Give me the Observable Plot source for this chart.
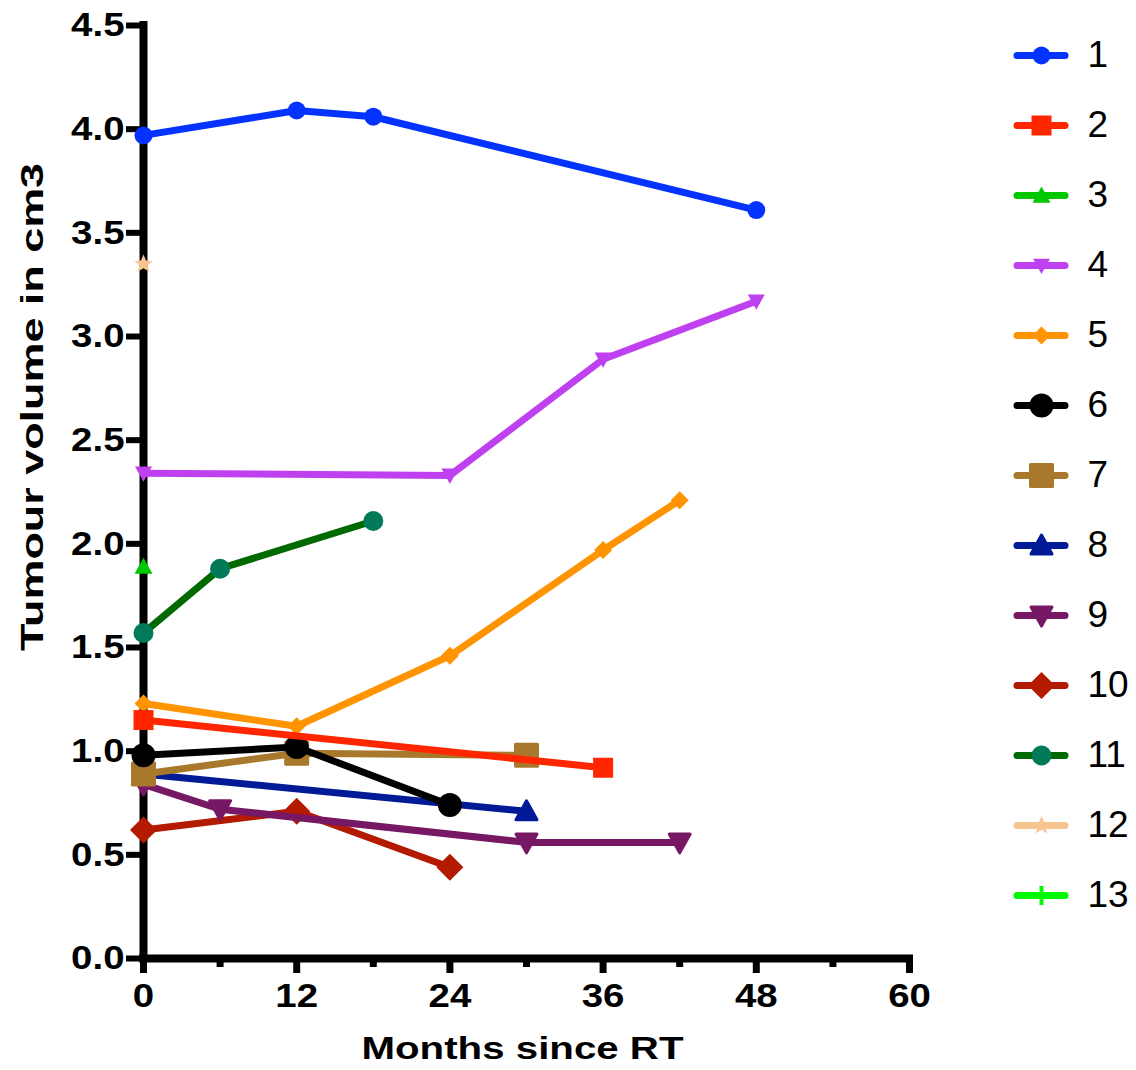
<!DOCTYPE html>
<html>
<head>
<meta charset="utf-8">
<script src="https://cdn.jsdelivr.net/npm/d3@7"></script>
<script src="https://cdn.jsdelivr.net/npm/@observablehq/plot@0.6"></script>
<style>
  html, body { margin: 0; padding: 0; background: #fff; }
  #wrap { position: relative; width: 1136px; height: 1070px; overflow: hidden; }
  #wrap svg { position: absolute; top: 0; }
</style>
</head>
<body>
<div id="wrap"></div>
<script>
// ---------- data ----------
const patients = ["1","2","3","4","5","6","7","8","9","10","11","12","13"];
const months = [
  [0, 12, 18, 48],
  [0, 36],
  [0],
  [0, 24, 36, 48],
  [0, 12, 24, 36, 42],
  [0, 12, 24],
  [0, 12, 30],
  [0, 30],
  [0, 6, 30, 42],
  [0, 12, 24],
  [0, 6, 18],
  [0],
  []
];
const volumes = [
  [3.97, 4.09, 4.06, 3.61],
  [1.15, 0.92],
  [1.89],
  [2.34, 2.33, 2.89, 3.17],
  [1.23, 1.12, 1.46, 1.97, 2.21],
  [0.98, 1.02, 0.74],
  [0.89, 0.99, 0.98],
  [0.89, 0.71],
  [0.84, 0.72, 0.56, 0.56],
  [0.62, 0.71, 0.44],
  [1.57, 1.88, 2.11],
  [3.35],
  []
];
const lineColors   = ["#0433FF","#FF2600","#00C800","#BF40EF","#FF9300","#000000","#A8792C","#011A96","#761863","#B31A00","#006A00","#F8C490","#00F900"];
const markerColors = ["#0433FF","#FF2600","#00C800","#BF40EF","#FF9300","#000000","#A8792C","#011A96","#761863","#B31A00","#007A58","#F8C490","#00F900"];
const markerShapes = ["circle","square","triangle","triangleDown","diamond","circle","square","triangle","triangleDown","diamond","circle","star","plus"];
const markerRadii  = [9, 10, 9, 8.5, 9, 12, 11, 10.5, 10.5, 13.5, 10, 9.5, 9.5];
const markerRound  = [0, 0, 0, 0, 0, 0, 3, 3, 3, 0, 0, 0, 0];
const xTicks = [0, 12, 24, 36, 48, 60];
const xMinorTicks = [6, 18, 30, 42, 54];
const yTicks = [0, 0.5, 1, 1.5, 2, 2.5, 3, 3.5, 4, 4.5];
const xLabel = "Months since RT";
const yLabel = "Tumour volume in cm3";

// ---------- symbols ----------
function makeSymbol(kind) {
  return {
    draw(ctx, size) {
      const r = Math.sqrt(size / Math.PI);
      if (kind === "circle") { ctx.moveTo(r, 0); ctx.arc(0, 0, r, 0, 2 * Math.PI); }
      else if (kind === "square") { ctx.rect(-r, -r, 2 * r, 2 * r); }
      else if (kind === "triangle") { ctx.moveTo(0, -r); ctx.lineTo(r, r * 0.8); ctx.lineTo(-r, r * 0.8); ctx.closePath(); }
      else if (kind === "triangleDown") { ctx.moveTo(0, r); ctx.lineTo(r, -r * 0.8); ctx.lineTo(-r, -r * 0.8); ctx.closePath(); }
      else if (kind === "diamond") { ctx.moveTo(0, -r); ctx.lineTo(r, 0); ctx.lineTo(0, r); ctx.lineTo(-r, 0); ctx.closePath(); }
      else if (kind === "star") {
        for (let k = 0; k < 10; ++k) {
          const a = -Math.PI / 2 + k * Math.PI / 5;
          const rr = k % 2 ? r * 0.45 : r;
          const px = rr * Math.cos(a), py = rr * Math.sin(a);
          k ? ctx.lineTo(px, py) : ctx.moveTo(px, py);
        }
        ctx.closePath();
      } else if (kind === "plus") {
        const w = r * 0.42;
        ctx.rect(-r, -w / 2, 2 * r, w);
        ctx.rect(-w / 2, -r, w, 2 * r);
      }
    }
  };
}

function seriesRows(i) { return months[i].map((m, j) => ({month: m, volume: volumes[i][j]})); }

function dotOptions(i, extra) {
  return Object.assign({
    r: markerRadii[i],
    symbol: makeSymbol(markerShapes[i]),
    fill: markerColors[i],
    stroke: markerRound[i] ? markerColors[i] : "none",
    strokeWidth: markerRound[i],
    strokeLinejoin: "round"
  }, extra);
}

// ---------- main chart ----------
const seriesMarks = [];
for (let i = patients.length - 1; i >= 0; --i) {
  const rows = seriesRows(i);
  seriesMarks.push(Plot.line(rows, {x: "month", y: "volume", stroke: lineColors[i], strokeWidth: 7, strokeLinejoin: "round"}));
  seriesMarks.push(Plot.dot(rows, dotOptions(i, {x: "month", y: "volume"})));
}

const fontFamily = "'Liberation Sans', Arial, Helvetica, sans-serif";

const chart = Plot.plot({
  width: 1136,
  height: 1070,
  marginLeft: 143,
  marginRight: 227,
  marginTop: 25,
  marginBottom: 112,
  x: {domain: [0, 60]},
  y: {domain: [0, 4.5]},
  style: {fontFamily, background: "transparent", color: "#000", overflow: "visible"},
  marks: [
    Plot.axisX(xTicks, {tickSize: 15, strokeWidth: 7, tickPadding: 9, fontSize: 34, fontWeight: "bold", tickFormat: d => String(d), label: null}),
    Plot.axisX(xMinorTicks, {tickSize: 9, strokeWidth: 7, tickFormat: () => "", label: null}),
    Plot.axisY(yTicks, {tickSize: 17, strokeWidth: 6, tickPadding: 2, fontSize: 34, fontWeight: "bold", tickFormat: d => d.toFixed(1), label: null}),
    Plot.ruleY([0], {x1: 0, x2: 60, stroke: "#000", strokeWidth: 8, strokeLinecap: "square"}),
    Plot.ruleX([0], {y1: 0, y2: 4.5, stroke: "#000", strokeWidth: 8, strokeLinecap: "square"}),
    ...seriesMarks,
    Plot.text([xLabel], {frameAnchor: "bottom", textAnchor: "middle", dx: -4, dy: 91, lineAnchor: "middle", fontSize: 31, fontWeight: "bold", fill: "#000"}),
    Plot.text([yLabel], {frameAnchor: "left", textAnchor: "middle", rotate: -90, dx: -110, dy: -85, lineAnchor: "middle", fontSize: 31, fontWeight: "bold", fill: "#000"})
  ]
});
chart.style.left = "0px";

// ---------- legend ----------
const legendMarks = [
  Plot.ruleY(patients, {y: d => d, x1: 0, x2: 1, stroke: (d, i) => lineColors[i], strokeWidth: 7, strokeLinecap: "round"})
];
patients.forEach((p, i) => {
  legendMarks.push(Plot.dot([p], dotOptions(i, {x: () => 0.5, y: d => d})));
});
legendMarks.push(Plot.text(patients, {x: () => 1, y: d => d, dx: 22, textAnchor: "start", lineAnchor: "middle", fontSize: 37, fill: "#000"}));

const legend = Plot.plot({
  width: 136,
  height: 1070,
  margin: 0,
  x: {domain: [0, 1], range: [17, 65], axis: null},
  y: {type: "point", domain: patients, range: [55, 895], padding: 0, axis: null},
  color: {type: "identity"},
  style: {fontFamily, background: "transparent", overflow: "visible"},
  marks: legendMarks
});
legend.style.left = "1000px";

const wrap = document.getElementById("wrap");
wrap.appendChild(chart);
wrap.appendChild(legend);

// the reference's bold lettering is wider than Liberation Sans: stretch texts
function stretch(el, len) {
  el.setAttribute("textLength", len);
  el.setAttribute("lengthAdjust", "spacingAndGlyphs");
}
chart.querySelectorAll("text").forEach(el => {
  const t = el.textContent;
  if (!t) return;
  if (t === xLabel) stretch(el, 322);
  else if (t === yLabel) stretch(el, 488);
  else stretch(el, el.getComputedTextLength() * 1.13);
});
</script>
</body>
</html>
